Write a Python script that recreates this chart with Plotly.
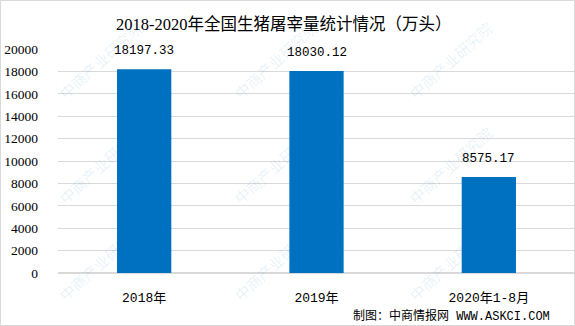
import plotly.graph_objects as go

categories = ["2018年", "2019年", "2020年1-8月"]
values = [18197.33, 18030.12, 8575.17]
value_labels = ["18197.33", "18030.12", "8575.17"]
y_ticks = list(range(0, 20001, 2000))

W, H = 575, 326
L, R, T, B = 58, 0, 49, 53
pw, ph = W - L - R, H - T - B

def px(x):
    return (x - L) / pw

def py(y):
    return (H - B - y) / ph

fig = go.Figure()
fig.add_trace(go.Bar(
    x=categories, y=values, width=0.315,
    marker=dict(color="#0070C0", line=dict(width=0)),
    hoverinfo="skip",
))

annotations = []
for c, v, t in zip(categories, values, value_labels):
    annotations.append(dict(
        x=c, y=v, xref="x", yref="y", text=t, showarrow=False,
        yanchor="bottom", yshift=9,
        font=dict(family="Liberation Mono, Noto Sans CJK SC", size=12.5, color="#000000"),
    ))

# title
annotations.append(dict(
    x=px(284), y=py(25), xref="paper", yref="paper",
    text="2018-2020年全国生猪屠宰量统计情况（万头）", showarrow=False,
    xanchor="center", yanchor="middle",
    font=dict(family="SimSun, Liberation Serif, Noto Sans CJK SC", size=16.5, color="#000000"),
))
# footer
annotations.append(dict(
    x=px(552), y=py(316), xref="paper", yref="paper",
    text="制图：中商情报网 WWW.ASKCI.COM", showarrow=False,
    xanchor="right", yanchor="middle",
    font=dict(family="Liberation Mono, Noto Sans CJK SC", size=12, color="#000000"),
))

# faint watermarks
wm_pos = [(100, 60), (275, 60), (450, 60), (100, 165), (275, 165), (450, 165),
          (100, 262), (275, 262), (450, 262)]
for (wx, wy) in wm_pos:
    annotations.append(dict(
        x=px(wx), y=py(wy), xref="paper", yref="paper",
        text="中商产业研究院", showarrow=False, textangle=-42,
        xanchor="center", yanchor="middle",
        font=dict(family="Noto Sans CJK SC", size=15, color="rgba(0,112,192,0.10)"),
    ))

fig.update_layout(
    width=W, height=H,
    margin=dict(l=L, r=R, t=T, b=B),
    paper_bgcolor="#FFFFFF", plot_bgcolor="#FFFFFF",
    showlegend=False,
    bargap=0.685,
    annotations=annotations,
    shapes=[dict(
        type="rect", xref="paper", yref="paper",
        x0=px(0.5), x1=px(574.5), y0=py(325.5), y1=py(0.5),
        line=dict(color="#D9D9D9", width=1), layer="above",
    )],
)
fig.update_xaxes(
    showgrid=False, showline=True, linecolor="#D9D9D9", linewidth=1,
    ticks="", tickfont=dict(family="Liberation Mono, Noto Sans CJK SC", size=13, color="#000000"),
    ticklabelstandoff=12,
)
fig.update_yaxes(
    range=[0, 20000], tickvals=y_ticks, ticktext=[str(t) for t in y_ticks],
    showgrid=True, gridcolor="#D9D9D9", gridwidth=1,
    zeroline=True, zerolinecolor="#D9D9D9", showline=False, ticks="",
    tickfont=dict(family="Liberation Serif", size=13.5, color="#000000"),
    ticklabelstandoff=19,
)

fig.write_html("out.html")
